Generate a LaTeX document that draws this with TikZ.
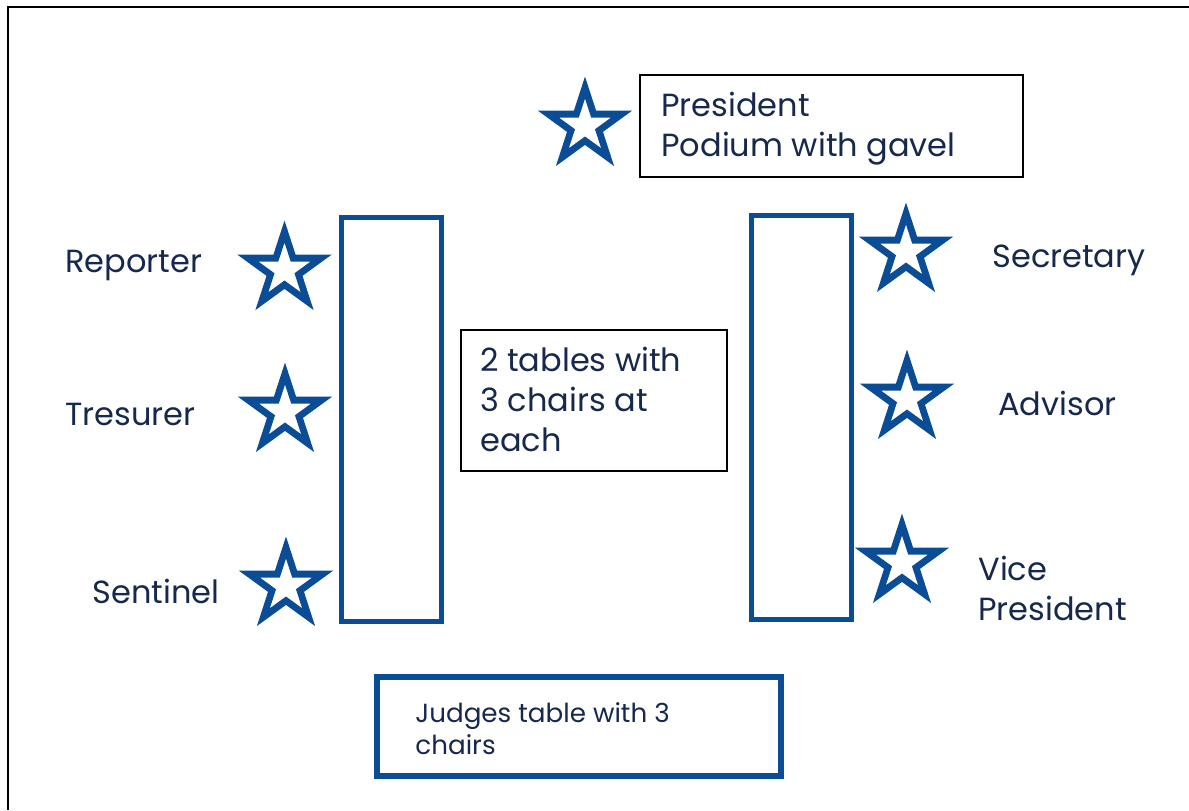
\documentclass[tikz,border=0pt]{standalone}
\usepackage{fontspec}
\setmainfont{Poppins}
\usetikzlibrary{shapes.geometric}

\definecolor{starblue}{RGB}{11,76,151}
\definecolor{inkblue}{RGB}{22,40,75}

\begin{document}
\begin{tikzpicture}[x=0.5pt, y=-0.5pt,
  officer/.style={star, star points=5, star point ratio=2.618, minimum size=38.5pt, inner sep=0pt,
    draw=starblue, line width=3.4pt, fill=white},
  tablebox/.style={draw=starblue, line width=2.5pt, minimum width=50pt, minimum height=202pt, inner sep=0pt},
  role/.style={text=inkblue, font=\fontsize{16}{20}\selectfont, inner sep=0pt, align=left},
  notebox/.style={draw=black, line width=1pt, inner sep=0pt}
]
\useasboundingbox (0,0) rectangle (1189,810);
\fill[white] (0,0) rectangle (1189,810);
\draw[line width=1pt] (8,810) -- (8,7) -- (1189,7);

\node[officer] (presstar) at (585,126) {};
\node[notebox, minimum width=191.5pt, minimum height=51pt] (podium) at (831.5,126) {};
\node[role, anchor=west] (podiumtext) at ([xshift=11pt, yshift=-1.5pt]podium.west) {President\\Podium with gavel};

\node[tablebox] (lefttable) at (391,419) {};
\node[tablebox] (righttable) at (801,417) {};

\node[notebox, minimum width=133pt, minimum height=70.5pt] (chairs) at (594,400.5) {};
\node[role, anchor=west] (chairstext) at ([xshift=10pt, yshift=0.5pt]chairs.west) {2 tables with\\3 chairs at\\each};

\node[officer] (repstar) at (284.5,270) {};
\node[officer] (trestar) at (285,412) {};
\node[officer] (sentstar) at (286,586) {};
\node[officer] (secstar) at (906,252) {};
\node[officer] (advstar) at (907,399) {};
\node[officer] (vpstar) at (902,563) {};

\node[role, anchor=west] (reporter) at (65,265) {Reporter};
\node[role, anchor=west] (tresurer) at (65,414) {Tresurer};
\node[role, anchor=west] (sentinel) at (92,591) {Sentinel};
\node[role, anchor=west] (secretary) at (992,260) {Secretary};
\node[role, anchor=west] (advisor) at (998,403) {Advisor};
\node[role, anchor=west] (vp) at (978,588) {Vice\\President};

\node[draw=starblue, line width=3pt, minimum width=202pt, minimum height=49.5pt, inner sep=0pt] (judges) at (579,726.5) {};
\node[role, anchor=west, font=\fontsize{13.1}{16}\selectfont] (judgestext) at ([xshift=20.5pt, yshift=-1.25pt]judges.west) {Judges table with 3\\chairs};
\end{tikzpicture}
\end{document}
